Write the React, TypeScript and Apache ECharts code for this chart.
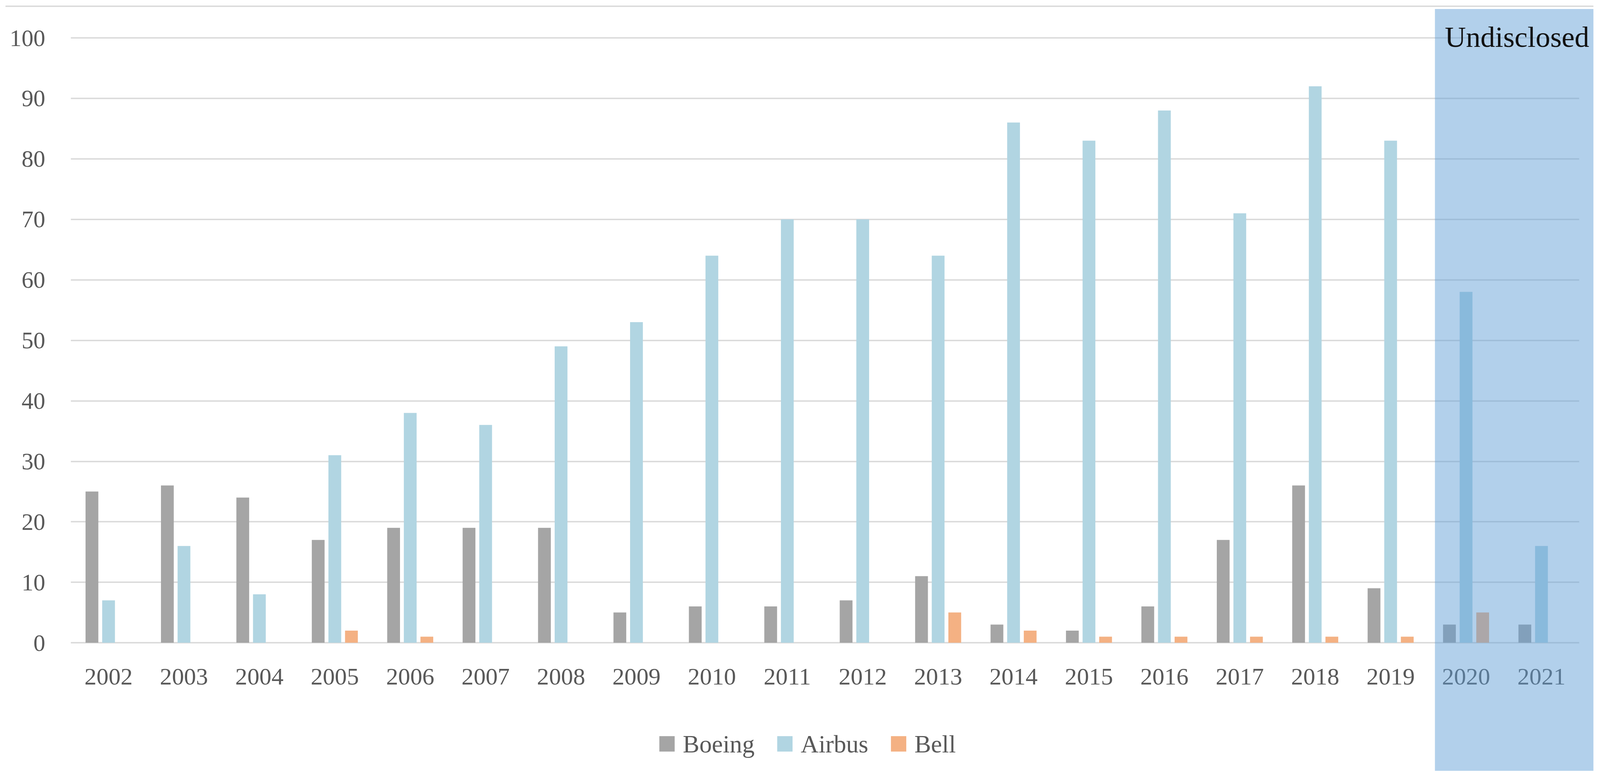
import React, { useEffect, useRef } from "react";
import * as echarts from "echarts";

const years = ["2002","2003","2004","2005","2006","2007","2008","2009","2010","2011","2012","2013","2014","2015","2016","2017","2018","2019","2020","2021"];
const boeing = [25, 26, 24, 17, 19, 19, 19, 5, 6, 6, 7, 11, 3, 2, 6, 17, 26, 9, 3, 3];
const airbus = [7, 16, 8, 31, 38, 36, 49, 53, 64, 70, 70, 64, 86, 83, 88, 71, 92, 83, 58, 16];
const bell = [null, null, null, 2, 1, null, null, null, null, null, null, 5, 2, 1, 1, 1, 1, 1, 5, null];
const seriesNames = ["Boeing", "Airbus", "Bell"];
const seriesColors = ["#a5a5a5", "#b1d5e2", "#f4b183"];
const overlayLabel = "Undisclosed";

const FONT = "'Liberation Serif', 'DejaVu Serif', serif";
const REF_W = 4381;
const REF_H = 1995;

export default function App() {
  const ref = useRef<HTMLDivElement>(null);
  useEffect(() => {
    document.body.style.margin = "0";
    document.body.style.overflow = "hidden";
    document.documentElement.style.overflow = "hidden";
    if (!ref.current) return;
    const W = ref.current.clientWidth || REF_W;
    const H = ref.current.clientHeight || REF_H;
    const sx = W / REF_W;
    const sy = H / REF_H;
    const s = Math.min(sx, sy);
    const X = (v: number) => v * sx;
    const Y = (v: number) => v * sy;
    const F = (v: number) => v * s;
    const chart = echarts.init(ref.current, undefined, { renderer: "svg" });
    const values = [boeing, airbus, bell];
    chart.setOption({
      animation: false,
      backgroundColor: "#ffffff",
      grid: { left: X(194), right: X(57), top: Y(97), bottom: Y(349), containLabel: false },
      legend: {
        left: X(1800),
        top: Y(1868),
        itemWidth: F(42),
        itemHeight: F(42),
        itemGap: X(62),
        icon: "rect",
        data: seriesNames,
        textStyle: {
          fontFamily: FONT,
          fontSize: F(68),
          color: "#595959",
          lineHeight: F(68),
          padding: [0, 0, 0, F(17)],
        },
      },
      xAxis: {
        type: "category",
        data: years,
        axisLine: { show: false },
        axisTick: { show: false },
        axisLabel: {
          fontFamily: FONT,
          fontSize: F(66),
          color: "#595959",
          margin: Y(55),
          interval: 0,
        },
      },
      yAxis: {
        type: "value",
        min: 0,
        max: 100,
        interval: 10,
        axisLine: { show: false },
        axisTick: { show: false },
        axisLabel: {
          fontFamily: FONT,
          fontSize: F(65),
          color: "#595959",
          margin: X(70),
        },
        splitLine: { lineStyle: { color: "#d9d9d9", width: F(4) } },
      },
      series: seriesNames.map((name, i) => ({
        name,
        type: "bar",
        data: values[i],
        barWidth: X(35),
        barGap: "30%",
        itemStyle: { color: seriesColors[i] },
      })),
      graphic: [
        {
          type: "line",
          z: 40,
          shape: { x1: X(15), y1: Y(16), x2: X(4363), y2: Y(16) },
          style: { stroke: "#d9d9d9", lineWidth: F(4) },
        },
        {
          type: "rect",
          z: 50,
          shape: { x: X(3929), y: Y(23), width: X(434), height: Y(1951) },
          style: { fill: "rgba(91,155,213,0.47)" },
        },
        {
          type: "text",
          z: 51,
          x: X(3956),
          y: Y(132),
          style: {
            text: overlayLabel,
            fontFamily: FONT,
            fontSize: F(80),
            fill: "#111111",
            verticalAlign: "bottom",
          },
        },
      ],
    });
    return () => chart.dispose();
  }, []);
  return (
    <div
      ref={ref}
      style={{ position: "fixed", left: 0, top: 0, width: "100vw", height: "100vh" }}
    />
  );
}
